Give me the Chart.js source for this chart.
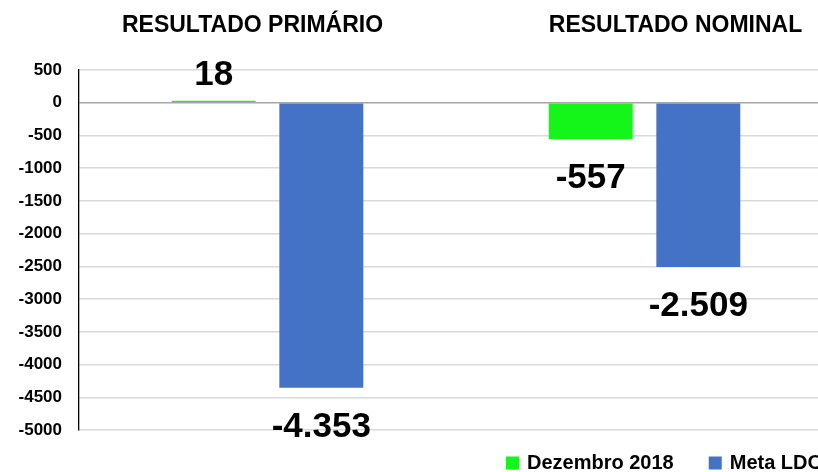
<!DOCTYPE html>
<html><head><meta charset="utf-8">
<script src="https://cdn.jsdelivr.net/npm/chart.js@4/dist/chart.umd.min.js"></script>
<style>
html,body{margin:0;padding:0;background:#fff;overflow:hidden;width:818px;height:472px;}
#wrap{position:absolute;left:0;top:0;width:840px;height:472px;}
</style></head>
<body><div id="wrap"><canvas id="c" width="840" height="472"></canvas></div>
<script>
const categories = ['RESULTADO PRIMÁRIO', 'RESULTADO NOMINAL'];
const seriesNames = ['Dezembro 2018', 'Meta LDO'];
const dezembro2018 = [18, -557];
const metaLDO = [-4353, -2509];
const yTicks = [500, 0, -500, -1000, -1500, -2000, -2500, -3000, -3500, -4000, -4500, -5000];

const FONT = '"Liberation Sans", Arial, sans-serif';
function fmt(v){
  const s = Math.abs(v).toString().replace(/\B(?=(\d{3})+(?!\d))/g, '.');
  return (v < 0 ? '-' : '') + s;
}

const labelsPlugin = {
  id: 'valueLabels',
  afterDatasetsDraw(chart){
    const ctx = chart.ctx;
    ctx.save();
    ctx.fillStyle = '#000';
    ctx.font = 'bold 35px ' + FONT;
    ctx.textAlign = 'center';
    chart.data.datasets.forEach((ds, di) => {
      const meta = chart.getDatasetMeta(di);
      meta.data.forEach((bar, i) => {
        const v = ds.data[i];
        if (v >= 0) { ctx.textBaseline = 'bottom'; ctx.fillText(fmt(v), bar.x, bar.y - 8); }
        else { ctx.textBaseline = 'top'; ctx.fillText(fmt(v), bar.x, bar.y + 22); }
      });
    });
    ctx.restore();
  }
};

const titlesPlugin = {
  id: 'groupTitles',
  afterDraw(chart){
    const ctx = chart.ctx;
    const xs = chart.scales.x;
    const offs = [-15, 31];
    ctx.save();
    ctx.fillStyle = '#000';
    ctx.font = 'bold 23px ' + FONT;
    ctx.textAlign = 'center';
    ctx.textBaseline = 'middle';
    categories.forEach((t, i) => {
      ctx.fillText(t, xs.getPixelForValue(i) + offs[i], 26);
    });
    ctx.restore();
  }
};

const legendPlugin = {
  id: 'bottomLegend',
  afterDraw(chart){
    const ctx = chart.ctx;
    ctx.save();
    ctx.font = 'bold 20px ' + FONT;
    ctx.textBaseline = 'middle';
    ctx.textAlign = 'left';
    let x = 506;
    const yc = 463;
    chart.data.datasets.forEach(ds => {
      ctx.fillStyle = ds.backgroundColor;
      ctx.fillRect(x, yc - 6.5, 13, 13);
      ctx.fillStyle = '#000';
      const tx = x + 13 + 8;
      ctx.fillText(ds.label, tx, yc);
      x = tx + ctx.measureText(ds.label).width + 35;
    });
    ctx.restore();
  }
};

new Chart(document.getElementById('c'), {
  type: 'bar',
  data: {
    labels: categories,
    datasets: [
      { label: seriesNames[0], data: dezembro2018, backgroundColor: '#14F51A', borderWidth: 0,
        categoryPercentage: 0.571, barPercentage: 0.78, minBarLength: 2 },
      { label: seriesNames[1], data: metaLDO, backgroundColor: '#4472C4', borderWidth: 0,
        categoryPercentage: 0.571, barPercentage: 0.78 }
    ]
  },
  options: {
    responsive: false,
    animation: false,
    layout: { padding: { top: 70, right: 7, left: 0, bottom: 42 } },
    plugins: {
      tooltip: { enabled: false },
      legend: { display: false }
    },
    scales: {
      x: { display: false },
      y: {
        min: -5000, max: 500,
        afterBuildTicks(scale){ scale.ticks = yTicks.map(v => ({ value: v })); },
        afterFit(scale){ scale.width = 79; },
        ticks: {
          padding: 17, color: '#000',
          font: { family: FONT, size: 17, weight: 'bold' },
          callback: v => String(v)
        },
        grid: {
          drawTicks: false,
          color: ctx => ctx.tick && ctx.tick.value === 0 ? '#a6a6a6' : '#d9d9d9',
          lineWidth: 1.5
        },
        border: { display: true, color: '#000', width: 1.3 }
      }
    }
  },
  plugins: [labelsPlugin, titlesPlugin, legendPlugin]
});
</script></body></html>
